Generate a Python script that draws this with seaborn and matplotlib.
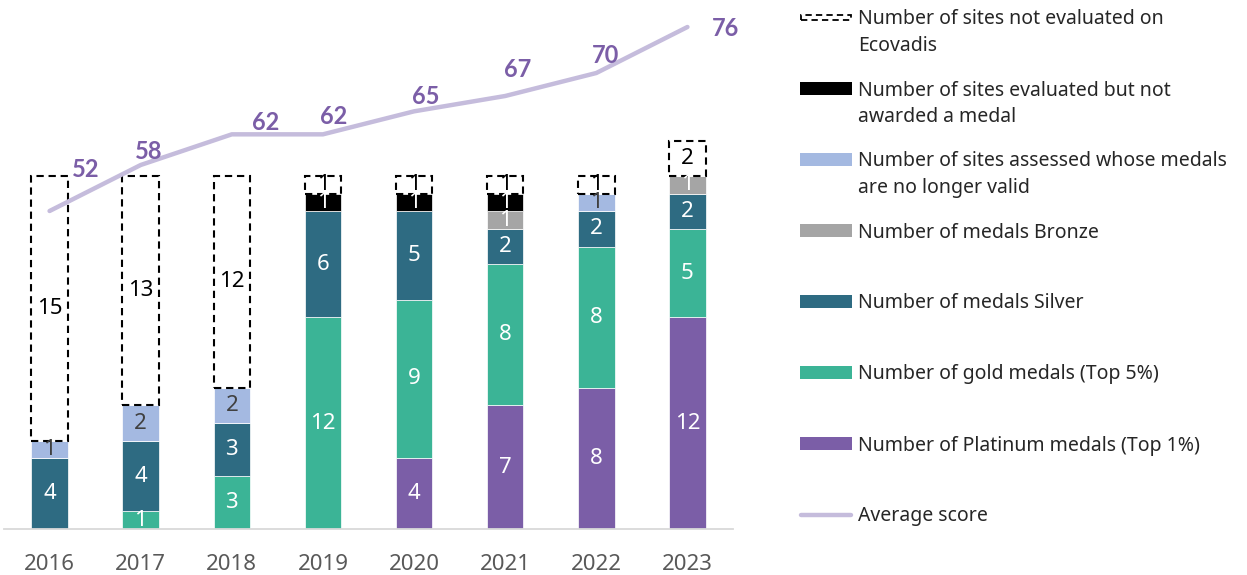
import numpy as np
import matplotlib
matplotlib.use("Agg")
import matplotlib.pyplot as plt
from matplotlib.patches import Rectangle
from matplotlib.lines import Line2D
import seaborn as sns

# ---- data -------------------------------------------------------------
years = ["2016", "2017", "2018", "2019", "2020", "2021", "2022", "2023"]
platinum = [0, 0, 0, 0, 4, 7, 8, 12]
gold = [0, 1, 3, 12, 9, 8, 8, 5]
silver = [4, 4, 3, 6, 5, 2, 2, 2]
bronze = [0, 0, 0, 0, 0, 1, 0, 1]
no_longer_valid = [1, 2, 2, 0, 0, 0, 1, 0]
no_medal = [0, 0, 0, 1, 1, 1, 0, 0]
not_evaluated = [15, 13, 12, 1, 1, 1, 1, 2]
avg_score = [52, 58, 62, 62, 65, 67, 70, 76]

series_names = [
    "Number of Platinum medals (Top 1%)",
    "Number of gold medals (Top 5%)",
    "Number of medals Silver",
    "Number of medals Bronze",
    "Number of sites assessed whose medals\nare no longer valid",
    "Number of sites evaluated but not\nawarded a medal",
    "Number of sites not evaluated on\nEcovadis",
]
line_name = "Average score"

# ---- styling ----------------------------------------------------------
sns.set_theme(style="white")
plt.rcParams["font.family"] = ["Noto Sans", "DejaVu Sans"]

# stacking order bottom -> top: (values, face, label colour, dashed outline)
stack = [
    (platinum, "#7B5EA7", "white", False),
    (gold, "#3BB496", "white", False),
    (silver, "#2E6B82", "white", False),
    (bronze, "#A5A5A5", "white", False),
    (no_longer_valid, "#A4B9E1", "#404040", False),
    (no_medal, "#000000", "white", False),
    (not_evaluated, "white", "black", True),
]
line_color = "#C5BCDC"
score_color = "#7B5EA7"
dash = (0, (3.5, 2.3))

W, H = 1247, 575
fig = plt.figure(figsize=(W / 100, H / 100), dpi=100)
ax = fig.add_axes([4 / W, 1 - 529 / H, 729 / W, 524 / H])

bottom = np.zeros(len(years))
for vals, face, tcol, dashed in stack:
    vals = np.asarray(vals, dtype=float)
    if dashed:
        style = dict(edgecolor="black", linewidth=1.5, linestyle=dash)
    else:
        style = dict(edgecolor="white", linewidth=0.5)
    sns.barplot(x=years, y=vals, bottom=bottom, width=0.4, color=face,
                saturation=1, errorbar=None, ax=ax, **style)
    ax.bar_label(ax.containers[-1],
                 labels=[f"{v:g}" if v else "" for v in vals],
                 label_type="center", color=tcol, fontsize=16)
    bottom += vals

ax.set_xlim(-0.5, len(years) - 0.5)
ax.set_ylim(0, 524 / 17.65)
ax.set_yticks([])
ax.set_xlabel("")
ax.set_ylabel("")
ax.tick_params(axis="x", length=0, pad=18, labelsize=16, labelcolor="#595959")
for side in ("left", "right", "top"):
    ax.spines[side].set_visible(False)
ax.spines["bottom"].set_color("#D9D9D9")
ax.spines["bottom"].set_linewidth(1.3)

# ---- average score line on secondary axis ----------------------------
ax2 = ax.twinx()
xpos = np.arange(len(years))
sns.lineplot(x=xpos, y=avg_score, ax=ax2, color=line_color, linewidth=3.2,
             solid_capstyle="round")
ax2.set_ylim(10.52, 78.87)
ax2.set_xlim(-0.5, len(years) - 0.5)
ax2.set_axis_off()

label_offsets = [(36, 41), (8, 13), (34, 12), (11, 18),
                 (12, 15), (12, 27), (9, 18), (38, -1)]
for x, v, off in zip(xpos, avg_score, label_offsets):
    ax2.annotate(f"{v}", (x, v), xytext=off, textcoords="offset pixels",
                 ha="center", va="center", fontsize=17, fontweight="bold",
                 family=["Lato", "DejaVu Sans"], color=score_color)

# ---- legend -----------------------------------------------------------
def fx(px):
    return px / W


def fy(py):
    return 1 - py / H


legend_rows = [(name, face, dashed) for (vals, face, tcol, dashed), name
               in zip(stack, series_names)][::-1]
legend_rows.append((line_name, None, False))

for i, (name, face, dashed) in enumerate(legend_rows):
    yc = 17.5 + 71.0 * i
    if face is None:
        fig.add_artist(Line2D([fx(801), fx(851)], [fy(yc), fy(yc)],
                              color=line_color, linewidth=3.2,
                              solid_capstyle="round",
                              transform=fig.transFigure))
    elif dashed:
        fig.add_artist(Rectangle((fx(801), fy(yc + 2.5)), 50 / W, 5 / H,
                                 facecolor="white", edgecolor="black",
                                 linewidth=1.3, linestyle=dash,
                                 transform=fig.transFigure))
    else:
        fig.add_artist(Rectangle((fx(800), fy(yc + 6.5)), 52 / W, 13 / H,
                                 facecolor=face, edgecolor="none",
                                 transform=fig.transFigure))
    # one text per line so the handle sits beside the first line
    for k, part in enumerate(name.split("\n")):
        fig.text(fx(858), fy(yc + 7 + 26.7 * k), part, va="baseline",
                 ha="left", fontsize=14, color="#262626")

fig.savefig("out.png", dpi=100)
